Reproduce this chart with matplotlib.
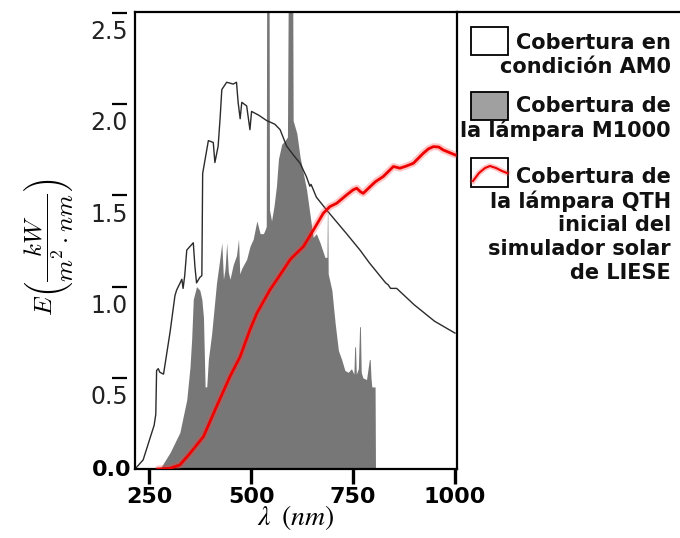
import matplotlib
matplotlib.use("Agg")
import matplotlib.pyplot as plt
from matplotlib.patches import Rectangle

plt.rcParams['mathtext.fontset'] = 'stix'
plt.rcParams['font.family'] = ['DejaVu Sans']

# --- AM0 spectrum (black line) ---
am0_wl = [215, 235, 252, 262, 266, 268, 272, 276, 285, 301, 313, 317, 330, 333,
          337, 342, 358, 362, 366, 374, 379, 381, 395, 407, 411, 419, 424, 428,
          440, 456, 464, 468, 473, 477, 489, 497, 501, 518, 538, 558, 571, 587,
          604, 620, 636, 644, 647, 660, 685, 734, 767, 790, 830, 836, 842, 857,
          900, 950, 1000]
am0_e = [0.0, 0.05, 0.17, 0.24, 0.30, 0.54, 0.55, 0.53, 0.52, 0.75, 0.95, 0.98,
         1.04, 0.99, 1.06, 1.20, 1.24, 1.11, 1.02, 1.05, 1.06, 1.62, 1.80, 1.79,
         1.68, 1.77, 1.93, 2.08, 2.12, 2.11, 2.12, 2.01, 1.92, 2.01, 1.99, 1.86,
         1.96, 1.94, 1.91, 1.89, 1.86, 1.77, 1.72, 1.676, 1.60, 1.55, 1.56, 1.49,
         1.42, 1.29, 1.20, 1.13, 1.02, 1.01, 0.99, 0.99, 0.90, 0.81, 0.745]

# --- M1000 lamp spectrum (grey fill) ---
m1000_wl = [276, 301, 325, 342, 350, 354, 358, 366, 374, 379, 383, 387, 391, 395,
            403, 415, 423, 428, 432, 436, 440, 444, 448, 456, 464, 469, 472, 477,
            489, 497, 505, 514, 522, 530, 534, 537, 538, 544, 545, 550, 556, 562,
            567, 575, 583, 589, 591, 602, 603, 612, 620, 628, 636, 644, 652, 660,
            669, 681, 686, 687, 688, 689, 698, 706, 714, 722, 730, 738, 746, 752,
            754, 756, 758, 763, 766, 768, 770, 774, 783, 790, 792, 794, 796, 804,
            805]
m1000_e = [0.0, 0.09, 0.20, 0.38, 0.56, 0.71, 0.93, 1.00, 0.98, 0.93, 0.83,
           0.45, 0.45, 0.60, 0.74, 1.02, 1.15, 1.24, 1.04, 1.10, 1.24, 1.08,
           1.04, 1.12, 1.17, 1.26, 1.07, 1.10, 1.15, 1.22, 1.26, 1.36, 1.29,
           1.29, 1.31, 1.33, 2.60, 2.60, 1.42, 1.36, 1.44, 1.55, 1.70, 1.78,
           1.80, 1.82, 2.60, 2.60, 1.91, 1.84, 1.71, 1.62, 1.53, 1.40, 1.27,
           1.29, 1.24, 1.16, 1.16, 1.40, 1.40, 1.07, 0.98, 0.80, 0.65, 0.60,
           0.54, 0.53, 0.55, 0.52, 0.67, 0.67, 0.52, 0.55, 0.78, 0.78, 0.53,
           0.50, 0.49, 0.60, 0.60, 0.50, 0.45, 0.45, 0.0]

# --- QTH lamp spectrum (red line) ---
qth_wl = [272, 301, 325, 350, 383, 415, 448, 473, 497, 514, 546, 579, 595, 603,
          628, 653, 677, 685, 693, 710, 734, 750, 759, 768, 775, 792, 805, 824,
          849, 865, 880, 898, 922, 935, 947, 960, 971, 1000]
qth_e = [0.0, 0.004, 0.022, 0.086, 0.178, 0.342, 0.507, 0.616, 0.763, 0.854,
         0.982, 1.091, 1.146, 1.165, 1.219, 1.311, 1.402, 1.42, 1.438, 1.457,
         1.502, 1.53, 1.539, 1.52, 1.511, 1.548, 1.575, 1.603, 1.658, 1.649,
         1.66, 1.676, 1.73, 1.755, 1.767, 1.765, 1.749, 1.722]

x_ticks = [250, 500, 750, 1000]
y_ticks = [0.0, 0.5, 1.0, 1.5, 2.0, 2.5]
y_tick_labels = ["0.0", "0.5", "1.0", "1.5", "2.0", "2.5"]

legend_lines = [["Cobertura en", "condición AM0"],
                ["Cobertura de", "la lámpara M1000"],
                ["Cobertura de", "la lámpara QTH", "inicial del",
                 "simulador solar", "de LIESE"]]

fig = plt.figure(figsize=(6.8, 5.38), dpi=100)
ax = fig.add_axes([135 / 680, 1 - 469 / 538, 322 / 680, 457 / 538])

ax.fill_between(m1000_wl, m1000_e, color='#777777', lw=0, zorder=1)
ax.plot(am0_wl, am0_e, color='#2b2b2b', lw=1.0, zorder=2)
ax.plot(qth_wl, qth_e, color='#ff4040', lw=5, alpha=0.3,
        solid_capstyle='round', zorder=3)
ax.plot(qth_wl, qth_e, color='#ee0000', lw=2.0, zorder=4)

ax.set_xlim(215, 1005)
ax.set_ylim(0, 2.505)
ax.set_xticks(x_ticks)
ax.set_xticklabels([str(t) for t in x_ticks], fontsize=16, fontweight='bold')
ax.tick_params(axis='x', length=11, width=2.4, pad=2)
ax.set_yticks([])
for sp in ax.spines.values():
    sp.set_linewidth(1.6)

# y ticks: short marks away from the spine, labels set below each mark
yt = ax.get_yaxis_transform()
ax.hlines(y_ticks[1:], -0.072, -0.025, transform=yt, color='black',
          lw=1.6, clip_on=False)
for v, lab in zip(y_ticks, y_tick_labels):
    if v == 0:
        ax.text(-0.01, v - 0.005, lab, transform=yt, ha='right', va='center',
                fontsize=16, fontweight='bold')
    else:
        ax.text(-0.022, v - 0.105, lab, transform=yt, ha='right',
                va='center', fontsize=17, color='#222222')

ax.set_xlabel(r'$\lambda\;\;(nm)$', fontsize=20, labelpad=-3)
ylab = ax.set_ylabel(r'$E\left(\dfrac{kW}{m^2\cdot nm}\right)$', fontsize=18)
ylab.set_math_fontfamily('cm')
ax.yaxis.set_label_coords(-0.186, 0.486)

# --- legend drawn in pixel space to the right of the plot ---
lax = fig.add_axes([0, 0, 1, 1])
lax.set_xlim(0, 680)
lax.set_ylim(538, 0)
lax.axis('off')
lax.plot([457, 680], [12, 12], color='black', lw=1.6)

lax.add_patch(Rectangle((471, 27), 37, 28, fc='white', ec='black', lw=1.3))
lax.add_patch(Rectangle((471, 92), 37, 28, fc='#a0a0a0', ec='black', lw=1.3))
lax.add_patch(Rectangle((471, 158), 37, 29, fc='white', ec='black', lw=1.3))
hx = [473, 479, 485, 490, 496, 502, 507]
hy = [181, 173, 168, 166, 168, 171, 173]
lax.plot(hx, hy, color='#ff4040', lw=4, alpha=0.3)
lax.plot(hx, hy, color='#ee0000', lw=1.5)

first_y = [43, 106, 177]
for lines, y0 in zip(legend_lines, first_y):
    for i, line in enumerate(lines):
        lax.text(671, y0 + i * 24, line, ha='right', va='center',
                 fontsize=15, fontweight='bold', color='#111111')

fig.savefig('out.png', dpi=100)
